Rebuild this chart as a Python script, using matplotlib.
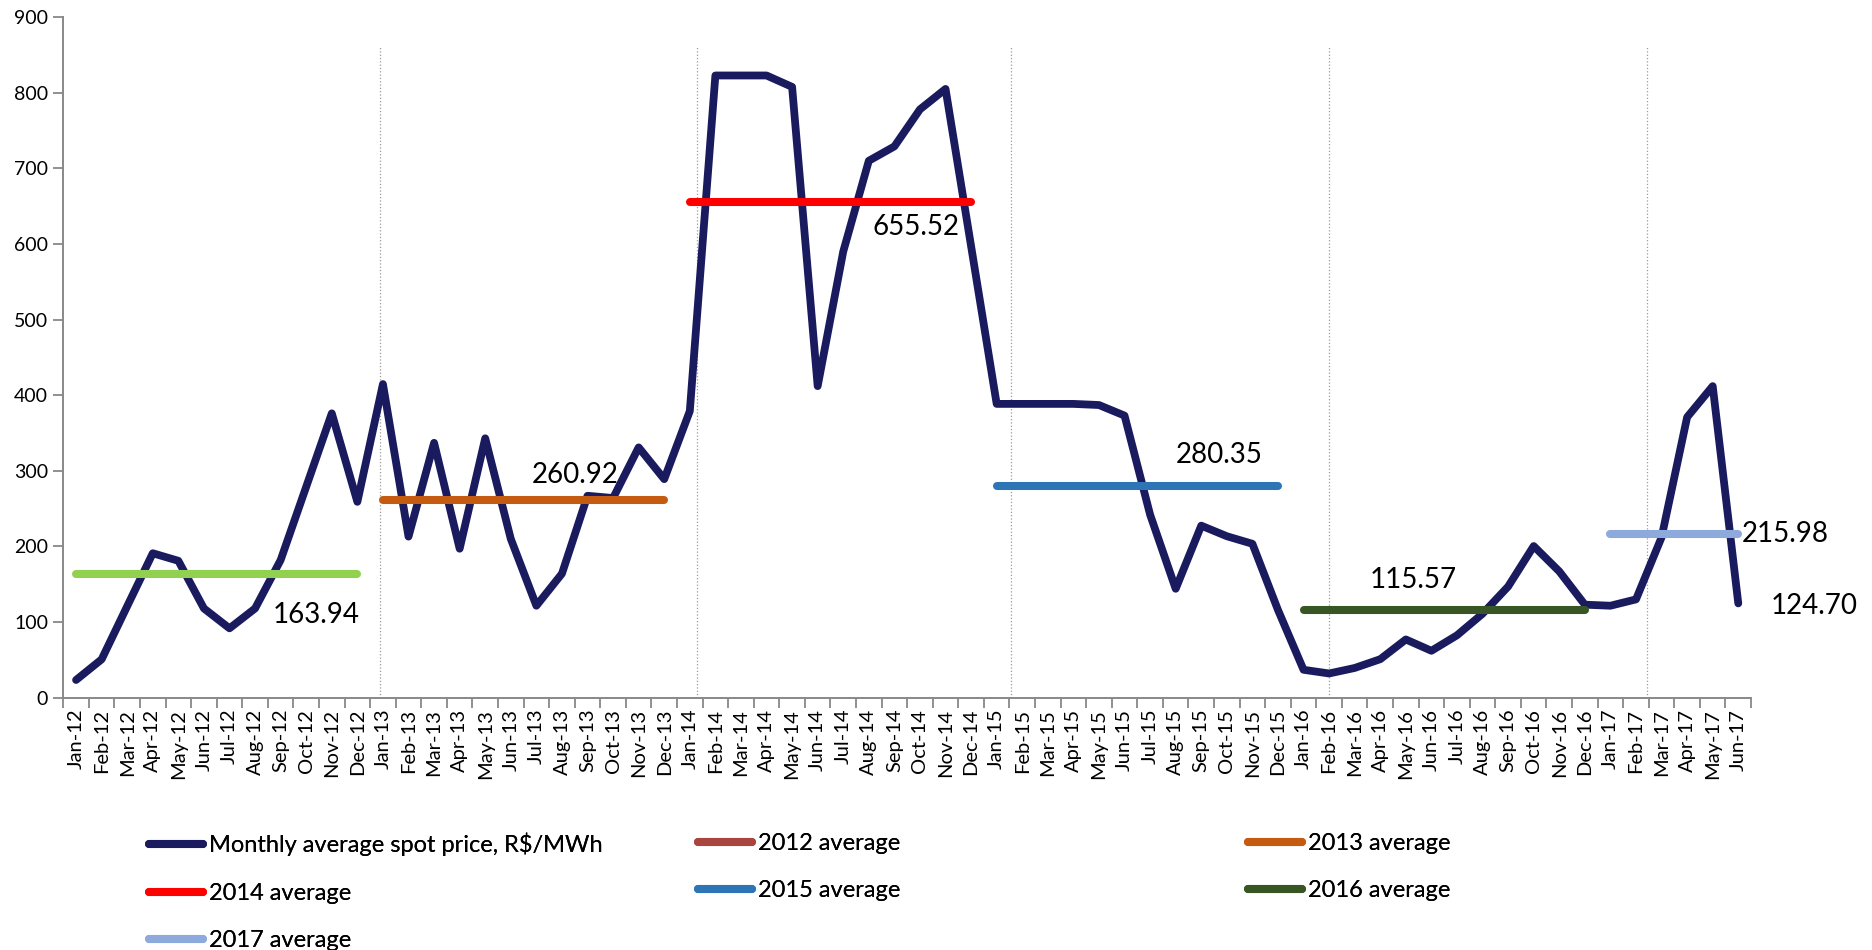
import numpy as np
import pandas as pd
import matplotlib
matplotlib.use("Agg")
import matplotlib.pyplot as plt
from matplotlib.lines import Line2D

plt.rcParams["font.family"] = ["Lato", "DejaVu Sans"]

months = pd.date_range("2012-01-01", periods=66, freq="MS").strftime("%b-%y").tolist()

# monthly average spot price, R$/MWh
prices = [
    23.4, 50.7, 121, 191, 181, 118, 91.7, 118, 182, 279, 376, 259,
    414.7, 213, 337, 197, 343, 210, 121.6, 164, 267, 264, 331, 289,
    379, 822.8, 822.8, 822.8, 807.7, 412, 590, 710, 729, 778, 805, 597,
    388.5, 388.5, 388.5, 388.5, 387, 373, 242, 144, 227.5, 213.5, 203.5, 116,
    36.9, 32, 39.3, 50.9, 77, 62, 82.5, 111, 147, 200.5, 167, 123,
    121.6, 130, 212, 371, 412, 124.70,
]

years = ["2012", "2013", "2014", "2015", "2016", "2017"]
year_avgs = [163.94, 260.92, 655.52, 280.35, 115.57, 215.98]
year_start = [0, 12, 24, 36, 48, 60]
year_end = [11, 23, 35, 47, 59, 65]

avg_colors = ["#92D050", "#C55A11", "#FF0000", "#2E75B6", "#375623", "#8EA9DB"]
legend_colors = ["#A9443F", "#C55A11", "#FF0000", "#2E75B6", "#375623", "#8EA9DB"]
line_color = "#1A1A5E"

# where the average value labels sit (x in month index, y in R$/MWh)
label_x = [9.4, 19.5, 32.85, 44.7, 52.3, 65.15]
label_y = [109, 294, 622, 321, 155, 216]
label_ha = ["center", "center", "center", "center", "center", "left"]

# year separators
dividers = [11.9, 24.27, 36.56, 48.99, 61.42]

fig = plt.figure(figsize=(18.72, 9.5), dpi=100)
ax = fig.add_axes([0.0338, 0.2656, 0.9016, 0.7164])

x = np.arange(len(prices))
ax.plot(x, prices, color=line_color, lw=5.6, solid_capstyle="round",
        solid_joinstyle="round", zorder=2)

for i in range(len(years)):
    ax.plot([year_start[i], year_end[i]], [year_avgs[i], year_avgs[i]],
            color=avg_colors[i], lw=5.8, solid_capstyle="round", zorder=3)
    ax.text(label_x[i], label_y[i], "{:.2f}".format(year_avgs[i]),
            ha=label_ha[i], va="center", fontsize=20, color="black")

# last month value
ax.text(66.25, prices[-1] - 4, "{:.2f}".format(prices[-1]), ha="left",
        va="center", fontsize=20, color="black")

ax.vlines(dividers, 0, 860, colors="#9a9a9a", linestyles=":", lw=0.9, zorder=1)

ax.set_xlim(-0.5, len(prices) - 0.5)
ax.set_ylim(0, 900)
ax.set_yticks(np.arange(0, 901, 100))
ax.set_xticks(np.arange(-0.5, len(prices), 1.0))
ax.set_xticklabels([])
ax.set_xticks(x, minor=True)
ax.set_xticklabels(months, minor=True, rotation=90)

for side in ["top", "right"]:
    ax.spines[side].set_visible(False)
for side in ["left", "bottom"]:
    ax.spines[side].set_color("#888888")
    ax.spines[side].set_linewidth(1.4)

ax.tick_params(axis="y", labelsize=14, length=7, width=1.3, color="#888888", pad=4)
ax.tick_params(axis="x", which="major", length=7, width=1.3, color="#888888")
ax.tick_params(axis="x", which="minor", length=0, labelsize=14.5, pad=8)

# legend in three columns
handles = [Line2D([], [], color=line_color, lw=5.8, solid_capstyle="round")]
labels = ["Monthly average spot price, R$/MWh"]
for i in range(len(years)):
    handles.append(Line2D([], [], color=legend_colors[i], lw=5.8, solid_capstyle="round"))
    labels.append(years[i] + " average")

columns = [[0, 3, 6], [1, 4], [2, 5]]
col_x = [149 / 1872, 698 / 1872, 1248 / 1872]
for c in range(3):
    leg = fig.legend([handles[k] for k in columns[c]], [labels[k] for k in columns[c]],
                     loc="upper left", bbox_to_anchor=(col_x[c], 1 - 833 / 950),
                     frameon=False, fontsize=17, handlelength=2.3, handletextpad=0.25,
                     labelspacing=1.12, borderpad=0, borderaxespad=0)
    fig.add_artist(leg)

fig.savefig("out.png", dpi=100)
